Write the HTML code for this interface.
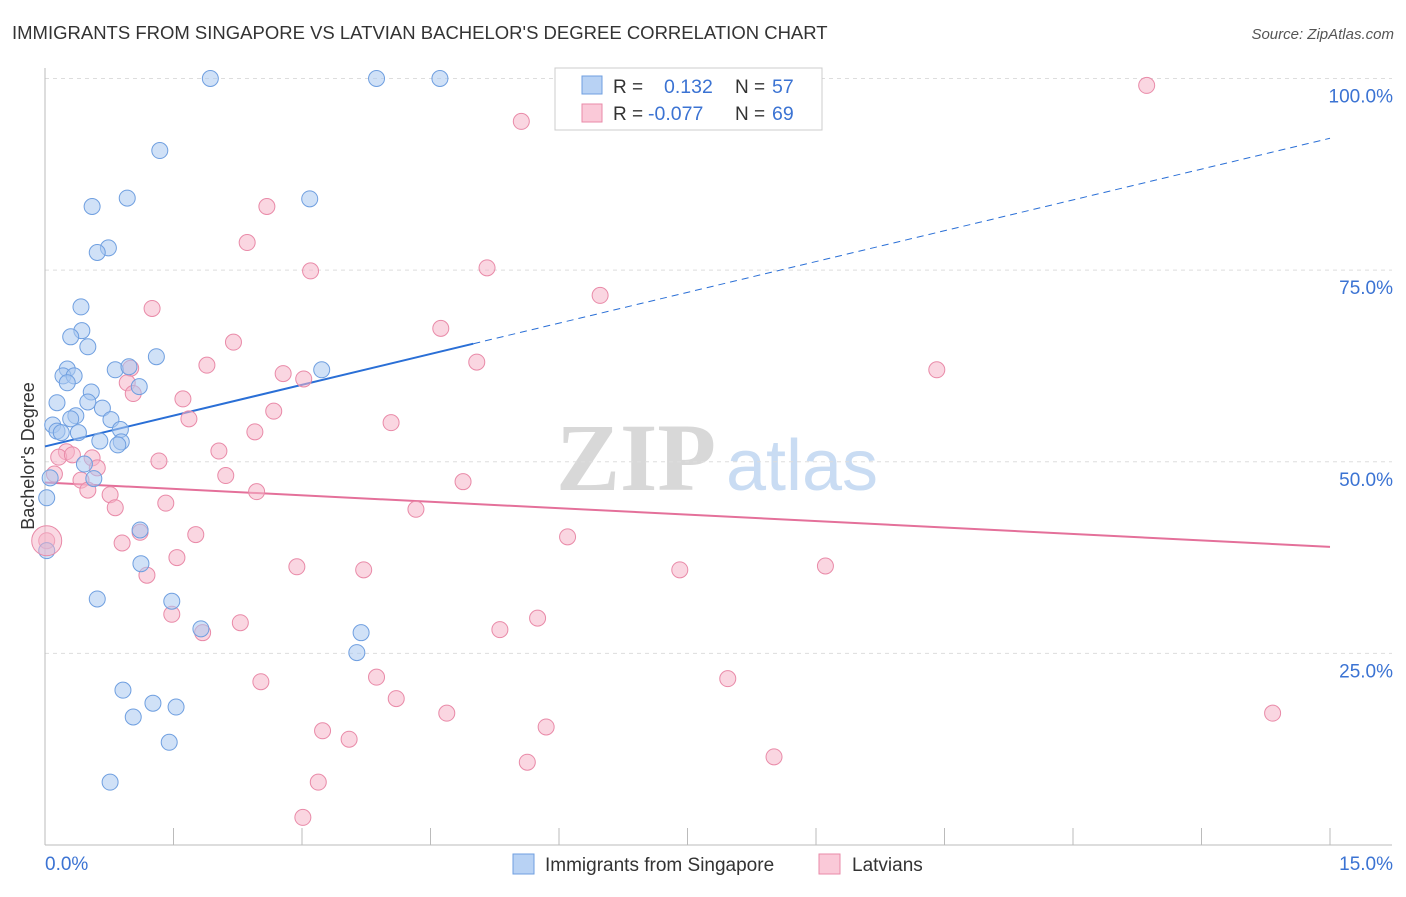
<!DOCTYPE html>
<html><head><meta charset="utf-8"><style>
body{margin:0;background:#fff;font-family:"Liberation Sans",sans-serif;}
svg text{font-family:"Liberation Sans",sans-serif;}
</style></head><body>
<svg id="chart" width="1406" height="892" viewBox="0 0 1406 892" xmlns="http://www.w3.org/2000/svg">
<text x="12" y="39" font-size="18.5" fill="#333">IMMIGRANTS FROM SINGAPORE VS LATVIAN BACHELOR'S DEGREE CORRELATION CHART</text>
<text x="1394" y="39" font-size="15" fill="#555" font-style="italic" text-anchor="end">Source: ZipAtlas.com</text>
<g>
<text x="636" y="490" font-size="96" fill="#d8d8d8" font-family="Liberation Serif" text-anchor="middle" font-weight="bold" style="font-family:'Liberation Serif',serif">ZIP</text>
<text x="802" y="490" font-size="72" fill="#c9dcf3" text-anchor="middle">atlas</text>
</g>
<g id="grid"></g>
<g id="axes"></g>
<g id="lines"></g>
<g id="points"></g>
<text transform="translate(34,456) rotate(-90)" font-size="18" fill="#333" text-anchor="middle">Bachelor's Degree</text>
<g>
<rect x="555" y="68" width="267" height="62" fill="#fff" stroke="#ccc"/>
<rect x="582" y="76" width="20" height="18" fill="#b8d2f4" stroke="#6f9fe0"/>
<rect x="582" y="104" width="20" height="18" fill="#fac9d8" stroke="#e98aa8"/>
<text x="613" y="93" font-size="19" fill="#333">R = </text><text x="664" y="93" font-size="19.5" fill="#3b73d3">0.132</text>
<text x="735" y="93" font-size="19" fill="#333">N = </text><text x="772" y="93" font-size="19.5" fill="#3b73d3">57</text>
<text x="613" y="120" font-size="19" fill="#333">R = </text><text x="648" y="120" font-size="19.5" fill="#3b73d3">-0.077</text>
<text x="735" y="120" font-size="19" fill="#333">N = </text><text x="772" y="120" font-size="19.5" fill="#3b73d3">69</text>
</g>
<g>
<rect x="513" y="854" width="21" height="20" fill="#b8d2f4" stroke="#6f9fe0"/>
<text x="545" y="871" font-size="19" fill="#333">Immigrants from Singapore</text>
<rect x="819" y="854" width="21" height="20" fill="#fac9d8" stroke="#e98aa8"/>
<text x="852" y="871" font-size="19" fill="#333">Latvians</text>
</g>
</svg>
<script>
const xTicks=[0,1.5,3,4.5,6,7.5,9,10.5,12,13.5,15];
const yTicks=[25,50,75,100];
const yTickLabels=["25.0%","50.0%","75.0%","100.0%"];
const blueX=[1.93,3.87,4.61,1.34,0.96,0.55,3.09,0.74,0.61,0.42,0.43,0.30,0.50,1.30,0.26,0.82,0.98,3.23,0.21,0.34,0.26,1.10,0.54,0.14,0.50,0.67,0.36,0.30,0.77,0.09,0.14,0.19,0.39,0.88,0.64,0.89,0.85,0.46,0.06,0.57,0.02,1.11,0.02,1.12,0.61,1.48,1.82,3.69,3.64,0.91,1.26,1.53,1.03,1.45,0.76];
const blueY=[100,100,100,90.6,84.4,83.3,84.3,77.9,77.3,70.2,67.1,66.3,65.0,63.7,62.1,62.0,62.4,62.0,61.2,61.2,60.3,59.8,59.1,57.7,57.8,57.0,56.0,55.6,55.5,54.8,54.0,53.8,53.8,54.2,52.7,52.6,52.2,49.7,47.9,47.8,45.3,41.1,38.4,36.7,32.1,31.8,28.2,27.7,25.1,20.2,18.5,18.0,16.7,13.4,8.2];
const pinkX=[12.86,5.56,2.59,2.36,3.10,5.16,6.48,1.25,4.62,2.20,5.04,10.41,1.89,1.00,2.78,3.02,0.96,1.03,1.61,2.67,1.68,4.04,2.45,2.03,0.25,0.16,0.32,0.55,1.33,0.61,0.11,0.42,2.11,4.88,0.50,2.47,0.76,1.41,0.82,4.33,1.11,1.76,0.90,6.10,0.02,1.54,1.19,2.94,3.72,7.41,9.11,1.48,2.28,1.84,5.75,5.31,3.87,2.52,7.97,4.10,4.69,14.33,5.85,3.24,3.55,8.51,5.63,3.19,3.01];
const pinkY=[99.1,94.4,83.3,78.6,74.9,75.3,71.7,70.0,67.4,65.6,63.0,62.0,62.6,62.2,61.5,60.8,60.3,58.9,58.2,56.6,55.6,55.1,53.9,51.4,51.3,50.6,50.9,50.5,50.1,49.2,48.4,47.6,48.2,47.4,46.3,46.1,45.7,44.6,44.0,43.8,40.8,40.5,39.4,40.2,39.7,37.5,35.2,36.3,35.9,35.9,36.4,30.1,29.0,27.7,29.6,28.1,21.9,21.3,21.7,19.1,17.2,17.2,15.4,14.9,13.8,11.5,10.8,8.2,3.6];
const blueTrend=[52.0,2.68]; // intercept, slope
const pinkTrend=[47.3,-0.56];
const blueSolidEnd=5.0;

const NS="http://www.w3.org/2000/svg";
const X=v=>45+v/15*1285;
const Y=v=>845-v/100*766.5;
function mk(tag,attrs,parent){const e=document.createElementNS(NS,tag);for(const k in attrs)e.setAttribute(k,attrs[k]);document.getElementById(parent).appendChild(e);return e;}

yTicks.forEach((t,i)=>{
  const g=mk('line',{x1:45,x2:1392,y1:Y(t),y2:Y(t),stroke:'#ddd','stroke-dasharray':'4,4'},'grid');
  
  
  const l=mk('text',{x:1393,y:Y(t)+24,'font-size':19,fill:'#3b73d3','text-anchor':'end'},'grid');
  l.textContent=yTickLabels[i];
  
  
});
const ax=mk('line',{x1:45,x2:45,y1:68,y2:845,stroke:'#bbb'},'axes');


const bx=mk('line',{x1:45,x2:1392,y1:845,y2:845,stroke:'#bbb'},'axes');


xTicks.forEach(t=>{
  const k=mk('line',{x1:X(t),x2:X(t),y1:828,y2:845,stroke:'#bbb'},'axes');
  
  
});
const x0=mk('text',{x:45,y:870,'font-size':19,fill:'#3b73d3'},'axes');x0.textContent='0.0%';


const x1=mk('text',{x:1393,y:870,'font-size':19,fill:'#3b73d3','text-anchor':'end'},'axes');x1.textContent='15.0%';



function dots(xs,ys,fill,stroke,name){
  xs.forEach((v,i)=>{
    const c=mk('circle',{cx:X(v),cy:Y(ys[i]),r:8,fill:fill,'fill-opacity':0.55,stroke:stroke,'stroke-width':1},'points');
    
    
  });
}
dots(pinkX,pinkY,'#f6b4c8','#e98aa8','latvians-point');
dots(blueX,blueY,'#a9c8f0','#6f9fe0','singapore-point');
const big=mk('circle',{cx:X(0.02),cy:Y(39.7),r:15,fill:'#f6b4c8','fill-opacity':0.5,stroke:'#e98aa8'},'points');



const f=(t,x)=>t[0]+t[1]*x;
const b1=mk('line',{x1:X(0),y1:Y(f(blueTrend,0)),x2:X(blueSolidEnd),y2:Y(f(blueTrend,blueSolidEnd)),stroke:'#2a6fd6','stroke-width':2},'lines');


const b2=mk('line',{x1:X(blueSolidEnd),y1:Y(f(blueTrend,blueSolidEnd)),x2:X(15),y2:Y(f(blueTrend,15)),stroke:'#2a6fd6','stroke-width':1,'stroke-dasharray':'7,5'},'lines');


const p1=mk('line',{x1:X(0),y1:Y(f(pinkTrend,0)),x2:X(15),y2:Y(f(pinkTrend,15)),stroke:'#e4709a','stroke-width':2},'lines');


</script>
</body></html>
